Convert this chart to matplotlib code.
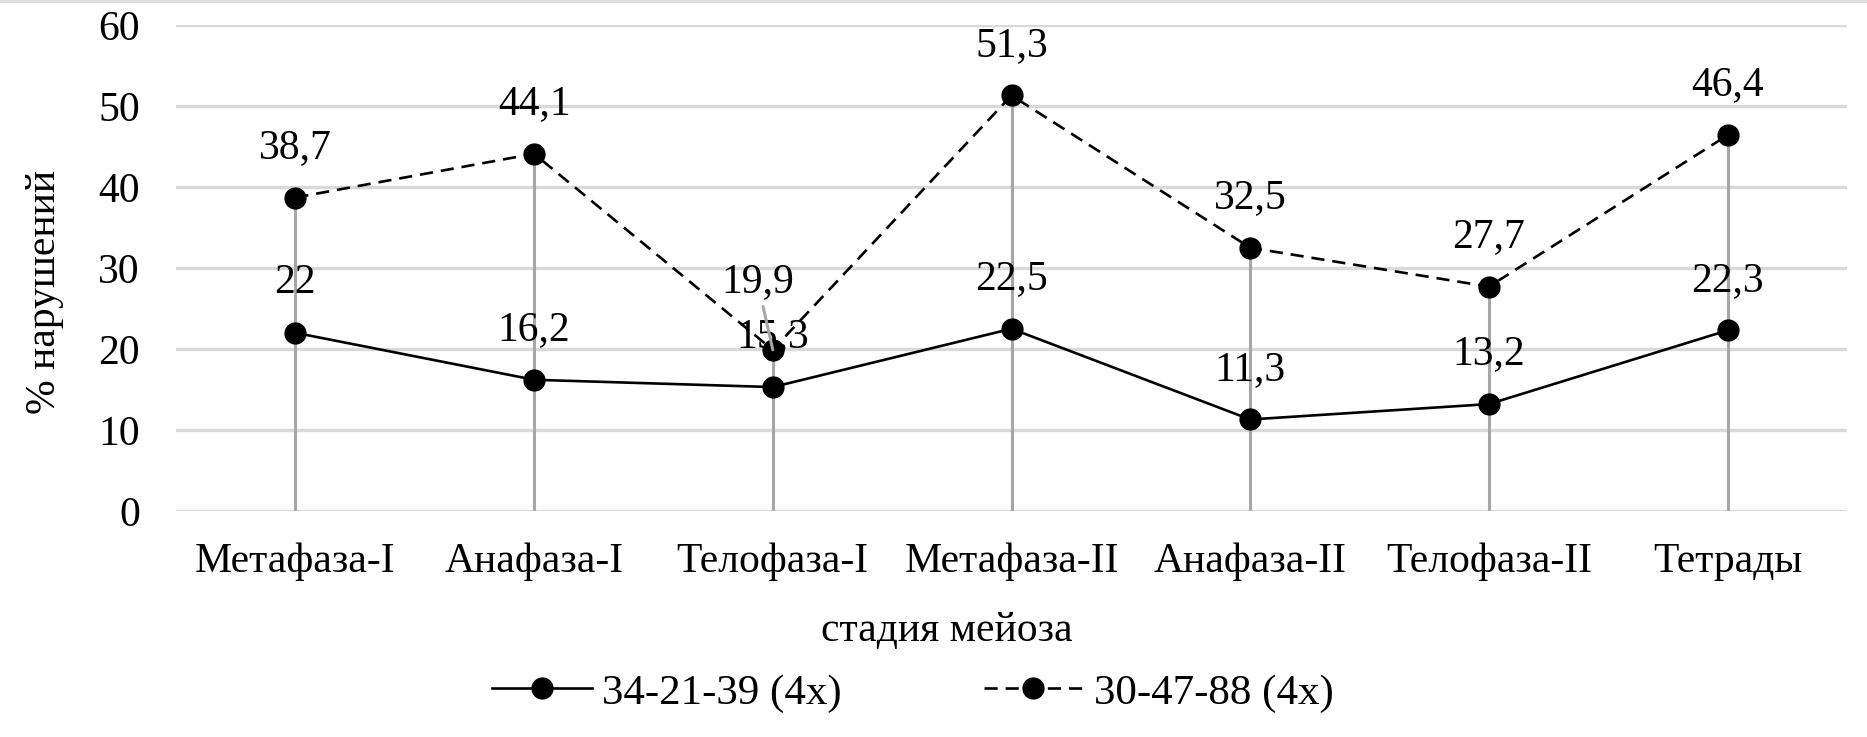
import matplotlib
matplotlib.use("Agg")
import matplotlib.pyplot as plt
from matplotlib.lines import Line2D

plt.rcParams['font.family'] = ['Liberation Serif', 'DejaVu Serif']

categories = ["Метафаза-I", "Анафаза-I", "Телофаза-I", "Метафаза-II",
              "Анафаза-II", "Телофаза-II", "Тетрады"]
series1_name = "34-21-39 (4x)"
series1 = [22, 16.2, 15.3, 22.5, 11.3, 13.2, 22.3]
series2_name = "30-47-88 (4x)"
series2 = [38.7, 44.1, 19.9, 51.3, 32.5, 27.7, 46.4]
yticks = [0, 10, 20, 30, 40, 50, 60]

W, H = 1867, 737
fig = plt.figure(figsize=(W/100, H/100), dpi=100)
ax = fig.add_axes([176/W, 1-511/H, (1847-176)/W, (511-25)/H])

x = list(range(len(categories)))
FS = 30

ax.set_xlim(-0.5, len(categories)-0.5)
ax.set_ylim(0, 60)
ax.set_yticks(yticks)
ax.set_xticks(x)
ax.set_xticklabels(categories, fontsize=FS)
ax.tick_params(axis='y', length=0, pad=26, labelsize=FS)
ax.tick_params(axis='x', length=0, pad=23, labelsize=FS)
for s in ax.spines.values():
    s.set_visible(False)
ax.grid(axis='y', color='#d9d9d9', linewidth=2.4, zorder=0)
ax.set_axisbelow(True)

# drop lines
tops = [max(a, b) for a, b in zip(series1, series2)]
ax.vlines(x, 0, tops, colors='#a6a6a6', linewidth=2.2, zorder=1)

ax.plot(x, series1, color='black', linewidth=1.9, marker='o', markersize=15,
        label=series1_name, zorder=3)
ax.plot(x, series2, color='black', linewidth=1.9, linestyle=(0, (5, 3)),
        marker='o', markersize=15, label=series2_name, zorder=3)

off = 36
for xi, v in zip(x, series1):
    ax.annotate(f"{v:g}".replace('.', ','), (xi, v), xytext=(0, off),
                textcoords='offset points', ha='center', va='center',
                fontsize=FS, zorder=4)
for xi, v in zip(x, series2):
    if categories[xi] == "Телофаза-I":
        ax.annotate(f"{v:g}".replace('.', ','), (xi, v), xytext=(-11, 49),
                    textcoords='offset points', ha='center', va='center',
                    fontsize=FS, zorder=4,
                    arrowprops=dict(arrowstyle='-', color='#a6a6a6', lw=2.2,
                                    shrinkA=2, shrinkB=0))
    else:
        ax.annotate(f"{v:g}".replace('.', ','), (xi, v), xytext=(0, off),
                    textcoords='offset points', ha='center', va='center',
                    fontsize=FS, zorder=4)

fig.text(45/W, 1-292/H, "% нарушений", rotation=90, ha='center', va='center',
         fontsize=FS)
fig.text(947/W, 1-631/H, "стадия мейоза", ha='center', va='center', fontsize=FS)

fig.legend(loc='center', bbox_to_anchor=(913/W, 1-693/H), ncol=2, frameon=False,
           fontsize=31, handlelength=2.3, handletextpad=0.25, columnspacing=3.3,
           borderpad=0, borderaxespad=0)

fig.add_artist(Line2D([0, 1], [1-1/H, 1-1/H], transform=fig.transFigure,
                      color='#d9d9d9', linewidth=2))

fig.savefig("out.png", dpi=100)
